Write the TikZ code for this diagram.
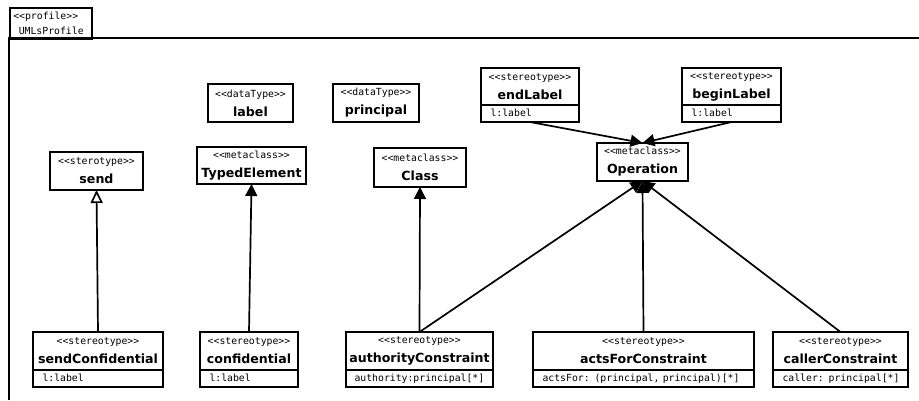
\documentclass[tikz,border=0pt]{standalone}
\usepackage{fontspec}
\setmainfont{DejaVu Sans}
\setmonofont{DejaVu Sans Mono}
\usetikzlibrary{arrows.meta,positioning}
\def\Hdr#1#2{{\ttfamily <<#1>>}\\{\bfseries\fontsize{12.6}{19}\selectfont #2}}

\begin{document}
\begin{tikzpicture}[x=1pt,y=-1pt,% pixel units, y grows downwards
		hdr/.style={
			draw,line width=1.8pt,outer sep=0pt,
			minimum width=#1,	% box width in px
			minimum height=38pt,
			inner sep=0pt,align=center,
			font=\fontsize{9.8}{19}\selectfont
		},
		attr/.style={
			draw,line width=1.8pt,outer sep=0pt,
			text width=#1,inner sep=0pt,align=left,
			minimum height=17pt,text height=7.2pt,text depth=2pt,
			font=\ttfamily\fontsize{9.8}{12}\selectfont
		},
		tab/.style={
			draw,line width=1.6pt,minimum width=82pt,minimum height=31pt,
			text width=75pt,inner xsep=3.5pt,inner ysep=0pt,align=left,
			font=\ttfamily\fontsize{9.8}{15}\selectfont
		},
		every edge/.style={draw,line width=1.7pt}
	]
	\useasboundingbox (0,0) rectangle (919,400);
	% package frame
	\node[tab,anchor=north west](prof) at (9,7) {<<profile>>\\\hspace*{5.5pt}UMLsProfile};
	\draw[line width=1.6pt] (9,400) |- (919,38);
	% upper row
	\node[hdr=93](send) at (96.5,171) {\Hdr{sterotype}{send}};
	\node[hdr=85](label) at (250.5,103) {\Hdr{dataType}{label}};
	\node[hdr=109,minimum height=37pt](typed) at (251.5,165.5) {\Hdr{metaclass}{TypedElement}};
	\node[hdr=86](principal) at (376,103) {\Hdr{dataType}{principal}};
	\node[hdr=92,minimum height=39pt](class) at (420,167.5) {\Hdr{metaclass}{Class}};
	\node[hdr=91](op) at (642.5,162) {\Hdr{metaclass}{Operation}};
	\node[hdr=98,minimum height=37pt](endl) at (530,86.5) {\Hdr{stereotype}{endLabel}};
	\node[attr=98pt](endlA)[below=0pt of endl] {\hspace*{9.5pt}l:label};
	\node[hdr=99,minimum height=37pt](beginl) at (731.5,86.5) {\Hdr{stereotype}{beginLabel}};
	\node[attr=99pt](beginlA)[below=0pt of beginl] {\hspace*{9.5pt}l:label};
	% lower row
	\node[hdr=130](sendc) at (98,351) {\Hdr{stereotype}{sendConfidential}};
	\node[attr=130pt](sendcA)[below=0pt of sendc] {\hspace*{9.5pt}l:label};
	\node[hdr=98](conf) at (249,351) {\Hdr{stereotype}{confidential}};
	\node[attr=98pt](confA)[below=0pt of conf] {\hspace*{9.5pt}l:label};
	\node[hdr=147](auth) at (419.5,351) {\Hdr{stereotype}{authorityConstraint}};
	\node[attr=147pt](authA)[below=0pt of auth] {\hspace*{8.5pt}authority:principal[*]};
	\node[hdr=221](acts) at (643.5,351) {\Hdr{stereotype}{actsForConstraint}};
	\node[attr=221pt](actsA)[below=0pt of acts] {\hspace*{9.5pt}actsFor: (principal, principal)[*]};
	\node[hdr=135](caller) at (840.5,351) {\Hdr{stereotype}{callerConstraint}};
	\node[attr=135pt](callerA)[below=0pt of caller] {\hspace*{9.5pt}caller: principal[*]};
	% generalisation
	\path[-{Triangle[open,width=12pt,length=13pt,fill=white]}]
	(sendc.north) edge (send.south)
	;
	% extensions
	\path[-{Triangle[width=12pt,length=12pt]}]
	(conf.north) edge (typed.south)
	(auth.north) edge (class.south)
	(auth.north) edge (op.south)
	(acts.north) edge (op.south)
	(caller.north) edge (op.south)
	(endlA.south) edge (op.north)
	(beginlA.south) edge (op.north)
	;
\end{tikzpicture}
\end{document}
